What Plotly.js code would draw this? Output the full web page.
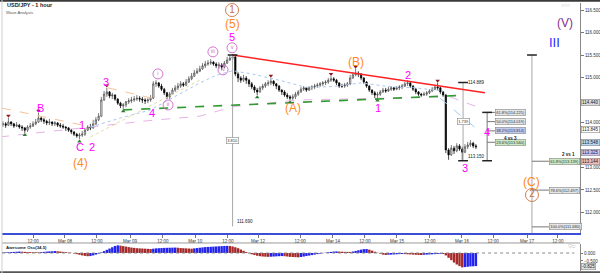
<!DOCTYPE html>
<html><head><meta charset="utf-8">
<script src="https://cdn.plot.ly/plotly-3.0.1.min.js"></script>
<style>html,body{margin:0;padding:0;background:#fff}#chart{width:600px;height:273px}</style>
</head><body><div id="chart"></div>
<script>
// ---------- DATA (USD/JPY 1 hour, bars indexed in hours from Mar 07 12:00) ----------
const firstBar = -11;
const firstOpen = 113.95;
const closes = [
113.97,113.94,114.01,113.97,113.92,113.94,113.90,113.88,113.83,113.90,113.92,
113.97,114.01,114.10,114.06,114.03,113.99,114.01,113.97,113.99,113.94,
113.92,113.90,113.88,113.83,113.79,113.74,113.70,113.72,113.74,113.83,
113.90,113.88,113.97,114.06,114.14,114.50,114.63,114.68,114.59,114.61,
114.52,114.43,114.37,114.39,114.46,114.48,114.50,114.52,114.54,114.52,
114.50,114.48,114.50,114.54,114.86,114.88,114.81,114.74,114.66,114.57,
114.63,114.72,114.77,114.81,114.86,114.83,114.90,114.97,115.03,115.10,
115.14,115.19,115.26,115.30,115.32,115.34,115.30,115.26,115.28,115.23,
115.32,115.39,115.43,115.46,115.08,114.99,114.94,114.99,114.94,114.86,
114.79,114.72,114.68,114.77,114.81,114.86,114.88,114.92,114.86,114.81,
114.72,114.68,114.61,114.57,114.54,114.57,114.63,114.68,114.74,114.77,
114.72,114.77,114.79,114.81,114.83,114.86,114.88,114.90,114.94,114.97,
114.94,114.88,114.81,114.81,114.83,114.86,114.99,115.06,115.10,115.08,
114.99,114.90,114.81,114.72,114.66,114.61,114.63,114.68,114.72,114.70,
114.74,114.77,114.74,114.77,114.79,114.81,114.86,114.88,114.81,114.74,
114.68,114.63,114.61,114.63,114.66,114.70,114.74,114.79,114.77,114.68,
114.61,113.39,113.28,113.43,113.37,113.48,113.41,113.34,113.46,113.50,
113.54,113.48,113.46];
const highs = [
114.03,114.01,114.10,114.03,113.99,114.01,113.97,113.94,113.90,113.94,113.99,
114.03,114.08,114.21,114.14,114.10,114.06,114.08,114.03,114.03,114.01,
113.99,113.97,113.92,113.90,113.86,113.81,113.77,113.77,113.81,113.88,
113.94,113.97,114.06,114.12,114.21,114.57,114.70,114.77,114.70,114.66,
114.63,114.54,114.46,114.43,114.48,114.54,114.57,114.59,114.61,114.59,
114.57,114.54,114.54,114.61,114.92,114.94,114.90,114.86,114.77,114.68,
114.68,114.77,114.83,114.88,114.92,114.90,114.97,115.03,115.10,115.17,
115.21,115.26,115.32,115.37,115.39,115.41,115.37,115.34,115.34,115.32,
115.37,115.46,115.50,115.52,115.46,115.12,115.03,115.06,115.03,114.97,
114.90,114.83,114.77,114.81,114.86,114.90,114.94,114.99,114.94,114.88,
114.83,114.74,114.72,114.66,114.61,114.63,114.68,114.72,114.79,114.81,
114.79,114.81,114.83,114.86,114.88,114.90,114.92,114.94,114.99,115.03,
115.01,114.97,114.90,114.86,114.88,114.90,115.06,115.12,115.19,115.14,
115.10,115.01,114.92,114.83,114.74,114.70,114.68,114.72,114.77,114.77,
114.79,114.81,114.79,114.81,114.83,114.86,114.90,114.94,114.90,114.83,
114.77,114.70,114.66,114.68,114.70,114.74,114.79,114.83,114.88,114.79,
114.70,114.63,113.43,113.50,113.48,113.54,113.52,113.46,113.52,113.57,
113.61,113.57,113.52];
const lows = [
113.90,113.88,113.92,113.92,113.88,113.90,113.86,113.81,113.77,113.79,113.86,
113.90,113.94,113.99,114.01,113.97,113.94,113.94,113.92,113.92,113.90,
113.88,113.86,113.81,113.79,113.74,113.70,113.66,113.63,113.68,113.70,
113.81,113.83,113.86,113.94,114.03,114.12,114.48,114.57,114.54,114.52,
114.48,114.39,114.32,114.30,114.34,114.41,114.43,114.46,114.48,114.46,
114.43,114.41,114.43,114.46,114.52,114.79,114.77,114.70,114.61,114.52,
114.52,114.61,114.68,114.72,114.77,114.79,114.81,114.88,114.94,115.01,
115.08,115.12,115.17,115.21,115.26,115.28,115.26,115.21,115.19,115.17,
115.21,115.30,115.37,115.39,115.03,114.90,114.88,114.90,114.86,114.79,
114.74,114.66,114.61,114.66,114.72,114.77,114.81,114.83,114.81,114.74,
114.68,114.61,114.57,114.52,114.50,114.50,114.52,114.59,114.66,114.70,
114.68,114.70,114.72,114.74,114.77,114.79,114.81,114.83,114.86,114.90,
114.90,114.83,114.77,114.77,114.77,114.79,114.83,114.97,115.03,115.01,
114.94,114.86,114.77,114.68,114.61,114.54,114.54,114.59,114.66,114.66,
114.68,114.70,114.70,114.72,114.72,114.74,114.79,114.81,114.77,114.70,
114.63,114.59,114.57,114.59,114.59,114.63,114.68,114.72,114.72,114.63,
114.57,113.32,113.17,113.26,113.30,113.34,113.37,113.17,113.32,113.41,
113.46,113.43,113.41];
// Awesome Oscillator (34,5)
const aoValues = [
0.03,0.04,0.05,0.06,0.07,0.08,0.09,0.08,0.07,0.06,0.055,
0.05,0.045,0.04,0.05,0.07,0.09,0.10,0.11,0.12,0.11,
0.09,0.07,0.05,0.03,0.01,-0.03,-0.07,-0.11,-0.15,-0.18,
-0.20,-0.19,-0.15,-0.10,-0.04,0.04,0.12,0.20,0.28,0.36,
0.44,0.48,0.46,0.43,0.40,0.37,0.34,0.32,0.30,0.29,
0.28,0.27,0.26,0.25,0.27,0.29,0.30,0.31,0.32,0.325,
0.33,0.335,0.34,0.33,0.31,0.30,0.29,0.28,0.27,0.29,
0.31,0.33,0.35,0.37,0.38,0.39,0.40,0.41,0.42,0.43,
0.44,0.445,0.44,0.41,0.36,0.30,0.22,0.14,0.06,-0.02,
-0.08,-0.13,-0.17,-0.20,-0.22,-0.23,-0.24,-0.23,-0.22,-0.21,
-0.20,-0.19,-0.20,-0.22,-0.24,-0.25,-0.26,-0.27,-0.25,-0.22,
-0.19,-0.16,-0.13,-0.10,-0.07,-0.04,-0.01,0.02,0.05,0.07,
0.09,0.10,0.09,0.08,0.075,0.07,0.065,0.09,0.13,0.17,
0.21,0.24,0.25,0.21,0.15,0.08,0.02,-0.04,-0.10,-0.12,
-0.11,-0.10,-0.09,-0.08,-0.07,-0.06,-0.07,-0.08,-0.09,-0.10,
-0.11,-0.12,-0.125,-0.11,-0.10,-0.09,-0.08,-0.07,-0.06,-0.05,
-0.06,-0.15,-0.30,-0.45,-0.60,-0.72,-0.82,-0.90,-0.88,-0.86,
-0.84,-0.83,-0.82];

const tickIdx = [0,11.7,23.4,35.5,47.5,59.3,71.3,82.3,97.7,109.7,121.4,133.1,145.2,156.9,168.3,180.7,192];
const tickText = ['12:00','Mar 08','12:00','Mar 09','12:00','Mar 10','12:00','Mar 12','12:00','Mar 14','12:00','Mar 15','12:00','Mar 16','12:00','Mar 17','12:00'];
// 113.500 and 114.500 sit under the price tags, so they are not labelled
const priceTicks = [112.0,112.5,113.0,114.0,115.0,115.5,116.0,116.5];

// moving averages (read at sample bars)
const maBlueIdx = [21,32,43,52,61,67,73,80,90,100,110,120,130,140,150];
const maBlue = [113.90,114.10,114.28,114.58,114.88,115.05,115.15,115.08,114.94,114.78,114.80,114.88,114.80,114.77,114.70];
const maPinkIdx = [-12,6,24,42,61,73,97,128,150];
const maPink = [113.68,113.80,113.92,114.04,114.14,114.35,114.50,114.55,114.57];
const maYellowIdx = [21,61];
const maYellow = [113.68,114.94];

// drawn trend lines [x0,x1],[y0,y1]
const redTrendX = [73,165.3], redTrendY = [115.50,114.66];
const greenTrendX = [33,155.5], greenTrendY = [114.28,114.60];
const peach1X = [-11.3,18.3], peach1Y = [114.32,113.94];
const peach2X = [27.4,43.5], peach2Y = [114.77,114.54];
const blueProjX = [148.9,162.8], blueProjY = [114.54,113.83];
const pinkProjX = [152.5,162.8], pinkProjY = [114.57,114.34];

// fractal markers (bar indices)
const fractalHighIdx = [-9,2,27,87,109,118,148];
const fractalLowIdx = [-3,17,33,82,94,126];

// measuring tools
const measureA = {i:73, top:115.50, bottom:111.69};
const measureB = {i:157.3, top:114.889, bottom:113.150};
const fibA = {i:166.1, boxI:169, high:114.889, low:113.150, levels:[0.618,0.5,0.382,0.236], colors:['#e6e6e6','#e6e6e6','#c3cbed','#cde8c2']};
const fibB = {i:182.5, boxI:188.7, high:115.50, low:111.68, levels:[0.618,0.786,1.0], colors:['#cde8c2','#e6e6e6','#e6e6e6']};
const priceTags = [['114.440',114.44,'#dcdcdc'],['113.845',113.845,'#ffffff'],['113.548',113.548,'#b9d6f2'],['113.325',113.325,'#c9c2f2'],['113.144',113.144,'#f2bcbc']];

// wave labels [text, bar, price, style]
const waveLabels = [
 ['B',2.6,114.32,'mag'],['1',17.9,113.94,'mag'],['C',17.2,113.46,'mag'],['2',21.6,113.46,'mag'],
 ['(4)',17.2,113.10,'org'],['3',26.7,114.90,'mag'],['4',43.5,114.21,'mag'],
 ['5',72.8,115.90,'mag'],['(5)',72.8,116.19,'org'],['(A)',95.1,114.32,'org'],['(B)',118.1,115.34,'org'],
 ['1',126.2,114.32,'mag'],['2',137.2,115.06,'mag'],['4',166.1,113.79,'mag'],['3',158.0,112.99,'mag'],
 ['(C)',182.5,112.68,'org'],['(V)',194.6,116.21,'pur'],['III',190.9,115.77,'blu']
];
const circledLabels = [
 ['i',45.7,115.08,'roman'],['ii',49.4,114.39,'roman'],['iii',65.8,115.57,'roman'],['iv',69.5,115.17,'roman'],['v',72.8,115.66,'roman'],
 ['1',72.8,116.50,'brown'],['2',182.5,112.39,'brown']
];

// ---------- BUILD ----------
const FONT = 'Liberation Sans, Arial, sans-serif';
const xs = closes.map((_, k) => firstBar + k);
const opens = closes.map((c, k) => k === 0 ? firstOpen : closes[k-1]);
const barAt = i => i - firstBar;
const traces = [];
const line = (x, y, color, width, dash, yaxis) => traces.push({type:'scatter', mode:'lines', x, y, yaxis: yaxis||'y', line:{color, width, dash: dash||'solid'}, hoverinfo:'skip'});

line(maPinkIdx, maPink, '#e6b3e6', 1, 'dash');
line(maYellowIdx, maYellow, '#e5dd9c', 1, 'dot');
line(maBlueIdx, maBlue, '#a9c8f0', 1, 'dot');
line(peach1X, peach1Y, '#f6c29a', 1, 'dash');
line(peach2X, peach2Y, '#f6c29a', 1, 'dash');
line(blueProjX, blueProjY, '#a9c8f0', 1, 'dash');
line(pinkProjX, pinkProjY, '#e6b3e6', 1, 'dash');

// vertical measuring tools
line([measureA.i, measureA.i], [measureA.top, measureA.bottom], '#a8a8a8', 1);
line([measureB.i, measureB.i], [measureB.top, measureB.bottom], '#a8a8a8', 1);
const fibPrice = (f, l) => f.low + (f.high - f.low) * l;
const fibPriceB = (f, l) => f.high - (f.high - f.low) * l;
line([fibA.i, fibA.i], [fibPrice(fibA, fibA.levels[0]), fibA.low], '#777', 1);
line([fibB.i, fibB.i], [fibB.high, 111.544], '#a8a8a8', 1);
fibA.levels.forEach(l => line([fibA.i, fibA.boxI], [fibPrice(fibA,l), fibPrice(fibA,l)], '#777', 1));
fibB.levels.forEach(l => line([fibB.i, fibB.boxI], [fibPriceB(fibB,l), fibPriceB(fibB,l)], '#777', 1));

// trend lines
line(greenTrendX, greenTrendY, '#2f9a2f', 1.6, 'dash');
line(redTrendX, redTrendY, '#ff2222', 1.6);

// candles
traces.push({type:'candlestick', x: xs, open: opens, high: highs, low: lows, close: closes,
  increasing:{line:{color:'#444', width:0.7}, fillcolor:'#ffffff'},
  decreasing:{line:{color:'#000', width:0.7}, fillcolor:'#000000'},
  whiskerwidth: 0, hoverinfo:'skip', xaxis:'x', yaxis:'y'});

// caps on tools
traces.push({type:'scatter', mode:'markers', hoverinfo:'skip',
  x:[measureA.i, measureB.i, measureB.i, fibA.i, fibA.i, fibB.i],
  y:[measureA.top, measureB.top, measureB.bottom, fibPrice(fibA,fibA.levels[0]), fibA.low, fibB.high],
  marker:{symbol:'line-ew-open', size:7, color:'#222', line:{width:1.5, color:'#222'}}});

// fractals
traces.push({type:'scatter', mode:'markers', hoverinfo:'skip', x: fractalHighIdx, y: fractalHighIdx.map(i => highs[barAt(i)] + 0.05),
  marker:{symbol:'triangle-down', size:4, color:'#8b1e1e'}});
traces.push({type:'scatter', mode:'markers', hoverinfo:'skip', x: fractalLowIdx, y: fractalLowIdx.map(i => lows[barAt(i)] - 0.05),
  marker:{symbol:'triangle-up', size:4, color:'#2e7d32'}});

// circled labels
const circStyle = {roman:{size:10, font:5.5, color:'#cc66cc'}, brown:{size:13, font:10, color:'#c86f3c'}};
['roman','brown'].forEach(s => {
  const items = circledLabels.filter(d => d[3] === s);
  const st = circStyle[s];
  traces.push({type:'scatter', mode:'markers+text', hoverinfo:'skip', cliponaxis:false,
    x: items.map(d => d[1]), y: items.map(d => d[2]), text: items.map(d => d[0]),
    textposition:'middle center', textfont:{family:FONT, size:st.font, color:st.color},
    marker:{symbol:'circle-open', size:st.size, color:st.color, line:{width:0.9, color:st.color}}});
});

// Awesome oscillator
const aoColors = aoValues.map((v, k) => (k === 0 || v > aoValues[k-1]) ? '#2323f0' : '#a62a2a');
traces.push({type:'bar', x: xs, y: aoValues, yaxis:'y2', xaxis:'x', marker:{color: aoColors, line:{width:0}}, hoverinfo:'skip'});

// ---------- ANNOTATIONS ----------
const ann = [];
const labStyle = {mag:{color:'#ff00ff', size:11}, org:{color:'#ff8a1f', size:12}, pur:{color:'#8b2d8b', size:12}, blu:{color:'#2a2aff', size:13}};
waveLabels.forEach(d => ann.push({x:d[1], y:d[2], xref:'x', yref:'y', text:d[0], showarrow:false,
  font:{family:FONT, size:labStyle[d[3]].size, color:labStyle[d[3]].color}}));

const box = (x, y, text, bg, xanchor, xref, yref) => ann.push({x, y, xref: xref||'x', yref: yref||'y', text, showarrow:false,
  xanchor: xanchor||'left', font:{family:FONT, size:4, color:'#333'}, bgcolor:bg, bordercolor:'#888', borderwidth:0.6, borderpad:0.6});

fibA.levels.forEach((l, k) => { const p = fibPrice(fibA, l); box(fibA.boxI, p, (l*100).toFixed(1)+'%('+p.toFixed(3)+')', fibA.colors[k]); });
fibB.levels.forEach((l, k) => { const p = fibPriceB(fibB, l); box(fibB.boxI, p, (l*100).toFixed(1)+'%('+p.toFixed(3)+')', fibB.colors[k]); });
box(measureA.i, (measureA.top+measureA.bottom)/2, (measureA.top-measureA.bottom).toFixed(3), '#fff', 'center');
box(measureB.i, (measureB.top+measureB.bottom)/2, (measureB.top-measureB.bottom).toFixed(3), '#fff', 'center');
const small = (x, y, text, bold, xanchor, yanchor) => ann.push({x, y, xref:'x', yref:'y', text: bold ? '<b>'+text+'</b>' : text, showarrow:false,
  xanchor: xanchor||'left', yanchor: yanchor||'middle', font:{family:FONT, size:4.5, color:'#222'}});
small(measureA.i + 1, measureA.bottom, measureA.bottom.toFixed(3), false, 'left', 'bottom');
small(measureB.i + 1, measureB.top, measureB.top.toFixed(3));
small(measureB.i + 1, measureB.bottom, measureB.bottom.toFixed(3), false, 'left', 'bottom');
small(174.5, 113.64, '4 vs 3', true, 'center');
small(195.7, 113.29, '2 vs 1', true, 'center');

priceTags.forEach(t => ann.push({x:1, y:t[1], xref:'paper', yref:'y', xanchor:'left', xshift:1, text:t[0], showarrow:false,
  font:{family:FONT, size:4.5, color:'#222'}, bgcolor:t[2], bordercolor:'#888', borderwidth:0.6, borderpad:0.5}));
ann.push({x:1, y:-0.82, xref:'paper', yref:'y2', xanchor:'left', xshift:1, text:'-0.825', showarrow:false,
  font:{family:FONT, size:4.5, color:'#222'}, bgcolor:'#e0e0e0', bordercolor:'#888', borderwidth:0.6, borderpad:0.5});

ann.push({x:0.006, y:0.982, xref:'paper', yref:'paper', xanchor:'left', yanchor:'middle', text:'<b>USD/JPY - 1 hour</b>', showarrow:false, font:{family:FONT, size:5.5, color:'#222'}});
ann.push({x:0.004, y:0.955, xref:'paper', yref:'paper', xanchor:'left', yanchor:'middle', text:'Wave Analysis', showarrow:false, font:{family:FONT, size:4.2, color:'#555'}});
ann.push({x:0.003, y:0.095, xref:'paper', yref:'paper', xanchor:'left', yanchor:'middle', text:'<b>Awesome Osc(34,5)</b>', showarrow:false, font:{family:FONT, size:4.3, color:'#222'}});
ann.push({x:0.975, y:0.982, xref:'paper', yref:'paper', xanchor:'center', yanchor:'middle', text:'○○○', showarrow:false, font:{family:FONT, size:5, color:'#999'}});
ann.push({x:0.985, y:0.1, xref:'paper', yref:'paper', xanchor:'center', yanchor:'middle', text:'▽□', showarrow:false, font:{family:FONT, size:5, color:'#999'}});

// ---------- LAYOUT ----------
const layout = {
  width:600, height:273, margin:{l:2, r:20, t:0, b:0, pad:0},
  paper_bgcolor:'#fff', plot_bgcolor:'#fff', showlegend:false, hovermode:false,
  font:{family:FONT, size:5, color:'#333'}, bargap:0.12,
  xaxis:{range:[-11.34, 200.07], domain:[0,1], anchor:'y', tickvals:tickIdx, ticktext:tickText,
    ticks:'outside', ticklen:3, tickcolor:'#777', tickfont:{size:4.5, color:'#333'},
    showgrid:false, zeroline:false, showline:true, linecolor:'#3b4fd6', linewidth:2, rangeslider:{visible:false}},
  yaxis:{domain:[0.1465, 0.989], range:[111.544, 116.656], side:'right', anchor:'x', tickvals:priceTicks, tickformat:'.3f',
    ticks:'outside', ticklen:3, tickcolor:'#777', tickfont:{size:4.5, color:'#333'}, showgrid:false, zeroline:false,
    showline:true, linecolor:'#888', linewidth:1},
  yaxis2:{domain:[0.00733, 0.1062], range:[-1.125, 0.5625], side:'right', anchor:'x', tickvals:[0,-0.5], tickformat:'.3f',
    ticks:'outside', ticklen:2, tickcolor:'#777', tickfont:{size:4.5, color:'#333'}, showgrid:false, zeroline:false,
    showline:true, linecolor:'#888', linewidth:1},
  shapes:[
    {type:'rect', xref:'paper', yref:'paper', x0:-0.01, x1:1.05, y0:0.994, y1:1.01, fillcolor:'#3a3a3a', line:{width:0}},
    {type:'rect', xref:'paper', yref:'paper', x0:-0.01, x1:1.05, y0:-0.01, y1:0.006, fillcolor:'#555', line:{width:0}},
    {type:'line', xref:'paper', yref:'paper', x0:0, x1:1, y0:0.1099, y1:0.1099, line:{color:'#9a9a9a', width:1}},
    {type:'line', xref:'paper', yref:'paper', x0:0, x1:0, y0:0, y1:1, line:{color:'#cfcfcf', width:1}},
    {type:'line', xref:'x', yref:'y2', x0:-11.3, x1:198, y0:0, y1:0, line:{color:'#8a8a8a', width:1, dash:'dot'}}
  ],
  annotations: ann
};

Plotly.newPlot('chart', traces, layout, {staticPlot:true, displayModeBar:false});
</script>
</body></html>
